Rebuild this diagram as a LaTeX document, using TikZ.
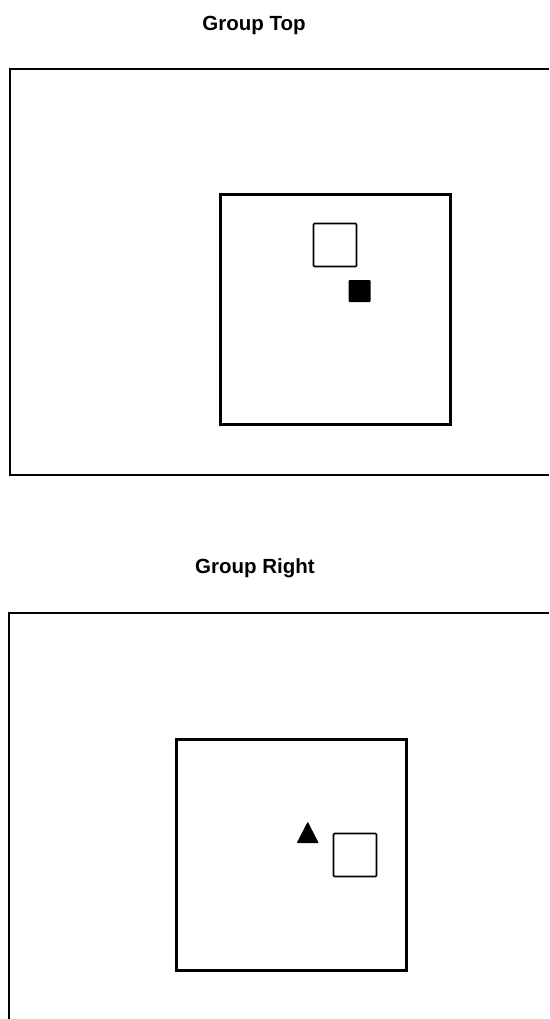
\documentclass[tikz,border=0pt]{standalone}
\usepackage{fontspec}
\setmainfont{Liberation Sans}
\begin{document}
\begin{tikzpicture}[x=1pt,y=-1pt,
  title/.style={font=\bfseries\fontsize{20.5}{24}\selectfont, inner sep=0pt, anchor=base},
  frame/.style={draw=black, line width=1.5pt},
  inner/.style={draw=black, line width=3pt, minimum width=230pt, minimum height=230pt, inner sep=0pt, outer sep=0pt},
  opensq/.style={draw=black, line width=1.6pt, rounded corners=1pt, minimum size=43pt, inner sep=0pt},
  fillsq/.style={fill=black, rounded corners=1pt, minimum size=22pt, inner sep=0pt},
]
\useasboundingbox (0,0) rectangle (549,1019);
\fill[white] (0,0) rectangle (549,1019);
% Group Top
\node[title] (t1) at (254,31) {Group Top};
\coordinate (f1a) at (549,69);
\coordinate (f1b) at (10,69);
\coordinate (f1c) at (10,475);
\coordinate (f1d) at (549,475);
\draw[frame] (f1a) -- (f1b) -- (f1c) -- (f1d);
\node[inner] (b1) at (335.7,309) {};
\node[opensq] (s1) at (335,245) {};
\node[fillsq] (q1) at (359.7,291) {};
% Group Right
\node[title] (t2) at (255,573) {Group Right};
\coordinate (f2a) at (549,613);
\coordinate (f2b) at (9,613);
\coordinate (f2c) at (9,1019);
\draw[frame] (f2a) -- (f2b) -- (f2c);
\node[inner, minimum height=231pt] (b2) at (291.8,854.5) {};
\fill[black, rounded corners=0.8pt] (296.7,843) -- (307.7,821.7) -- (318.7,843) -- cycle;
\node[opensq] (s2) at (355,855) {};
\end{tikzpicture}
\end{document}
